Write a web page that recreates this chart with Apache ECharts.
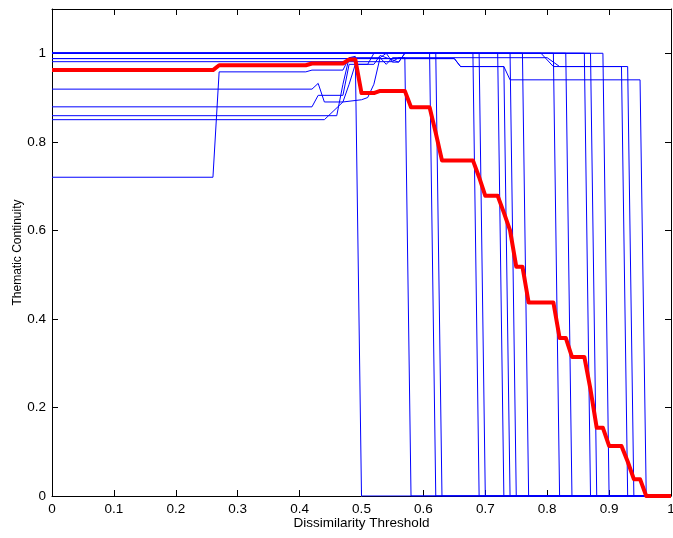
<!DOCTYPE html>
<html>
<head>
<meta charset="utf-8">
<title>Thematic Continuity</title>
<script src="https://cdn.jsdelivr.net/npm/echarts@6/dist/echarts.min.js"></script>
<style>
	html, body { margin: 0; padding: 0; background: #fff; }
	#chart { width: 673px; height: 538px; }
</style>
</head>
<body>
<div id="chart"></div>
<script>
	// axis ticks
	var xTicks = [0, 0.1, 0.2, 0.3, 0.4, 0.5, 0.6, 0.7, 0.8, 0.9, 1];
	var yTicks = [0, 0.2, 0.4, 0.6, 0.8, 1];

	// mean curve (thick red)
	var meanCurve = [[0, 0.962], [0.26, 0.962], [0.27, 0.973], [0.41, 0.973], [0.42, 0.977], [0.47, 0.977],
		[0.48, 0.986], [0.49, 0.986], [0.50, 0.910], [0.52, 0.910], [0.53, 0.915], [0.57, 0.915],
		[0.58, 0.878], [0.61, 0.878], [0.62, 0.82], [0.63, 0.758], [0.68, 0.758], [0.69, 0.72],
		[0.70, 0.678], [0.72, 0.678], [0.73, 0.64], [0.74, 0.60], [0.75, 0.518], [0.76, 0.518],
		[0.77, 0.437], [0.81, 0.437], [0.82, 0.357], [0.83, 0.357], [0.84, 0.314], [0.86, 0.314],
		[0.87, 0.24], [0.88, 0.154], [0.89, 0.154], [0.90, 0.113], [0.92, 0.113], [0.93, 0.078],
		[0.94, 0.038], [0.95, 0.038], [0.96, 0], [1, 0]];

	// single runs (thin blue)
	var run01 = [[0, 0.859], [0.46, 0.859], [0.47, 0.93], [0.48, 0.99], [0.49, 0.993], [0.50, 0], [1, 0]];
	var run02 = [[0, 0.72], [0.26, 0.72], [0.27, 0.958], [0.41, 0.958], [0.42, 0.962], [0.47, 0.962], [0.48, 0.99], [0.53, 0.99], [0.54, 0.975], [0.55, 0.99], [0.57, 0.99], [0.58, 0], [1, 0]];
	var run03 = [[0, 0.919], [0.42, 0.919], [0.43, 0.932], [0.44, 0.89], [0.47, 0.89], [0.48, 0.93], [0.49, 0.975], [0.51, 0.975], [0.52, 1], [0.61, 1], [0.62, 0], [1, 0]];
	var run04 = [[0, 0.85], [0.44, 0.85], [0.47, 0.89], [0.50, 0.895], [0.51, 0.9], [0.52, 0.93], [0.53, 0.99], [0.54, 1], [0.62, 1], [0.63, 0], [1, 0]];
	var run05 = [[0, 0.879], [0.42, 0.879], [0.43, 0.905], [0.47, 0.905], [0.48, 0.975], [0.52, 0.975], [0.53, 0.995], [0.56, 0.98], [0.57, 1], [0.68, 1], [0.69, 0], [1, 0]];
	var run06 = [[0, 1], [0.54, 1], [0.55, 0.98], [0.56, 0.98], [0.57, 1], [0.69, 1], [0.70, 0], [1, 0]];
	var run07 = [[0, 1], [0.72, 1], [0.73, 0], [1, 0]];
	var run08 = [[0, 0.988], [0.65, 0.988], [0.66, 0.97], [0.73, 0.97], [0.74, 0], [1, 0]];
	var run09 = [[0, 1], [0.74, 1], [0.75, 0], [1, 0]];
	var run10 = [[0, 1], [0.76, 1], [0.77, 0], [1, 0]];
	var run11 = [[0, 1], [0.81, 1], [0.82, 0], [1, 0]];
	var run12 = [[0, 1], [0.83, 1], [0.84, 0], [1, 0]];
	var run13 = [[0, 1], [0.86, 1], [0.87, 0], [1, 0]];
	var run14 = [[0, 1], [0.87, 1], [0.88, 0], [1, 0]];
	var run15 = [[0, 1], [0.89, 1], [0.90, 0], [1, 0]];
	var run16 = [[0, 1], [0.79, 1], [0.81, 0.97], [0.92, 0.97], [0.93, 0], [1, 0]];
	var run17 = [[0, 0.981], [0.55, 0.981], [0.56, 0.99], [0.80, 0.99], [0.82, 0.97], [0.93, 0.97], [0.94, 0], [1, 0]];
	var run18 = [[0, 0.988], [0.65, 0.988], [0.66, 0.97], [0.73, 0.97], [0.74, 0.94], [0.95, 0.94], [0.96, 0], [1, 0]];

	var runs = [run01, run02, run03, run04, run05, run06, run07, run08, run09,
		run10, run11, run12, run13, run14, run15, run16, run17, run18];

	var font = 'Liberation Sans, Arial, Helvetica, sans-serif';

	var series = runs.map(function(r) {
		return {
			type: 'line',
			data: r,
			showSymbol: false,
			symbol: 'none',
			silent: true,
			lineStyle: { color: '#0000ff', width: 1 },
			z: 2
		};
	});
	series.push({
		type: 'line',
		data: meanCurve,
		symbol: 'none',
		silent: true,
		lineStyle: { color: '#ff0000', width: 4, join: 'round' },
		z: 5
	});

	function inTicks(list, v) {
		for (var i = 0; i < list.length; i++) {
			if (Math.abs(list[i] - v) < 1e-6) return true;
		}
		return false;
	}

	// box axes: no onZero, ticks pointing inward
	function boxAxis(extra) {
		return Object.assign({
			axisLine: { show: true, onZero: false, lineStyle: { color: '#000', width: 1 } },
			axisTick: { show: true, inside: true, length: 6, lineStyle: { color: '#000' } },
			splitLine: { show: false }
		}, extra);
	}

	var myChart = echarts.init(document.getElementById('chart'), null, { renderer: 'canvas' });
	myChart.setOption({
		animation: false,
		backgroundColor: '#fff',
		grid: { left: 52, right: 2, top: 9, bottom: 42, containLabel: false, outerBoundsMode: 'none' },
		xAxis: [
			boxAxis({
				type: 'value', min: 0, max: 1, interval: 0.1, position: 'bottom',
				name: 'Dissimilarity Threshold', nameLocation: 'middle', nameGap: 20,
				nameMoveOverlap: false,
				nameTextStyle: { color: '#000', fontFamily: font, fontSize: 13.5 },
				axisLabel: {
					color: '#000', fontFamily: font, fontSize: 13.5, margin: 6,
					formatter: function(v) { return inTicks(xTicks, v) ? String(+v.toFixed(1)) : ''; }
				}
			}),
			boxAxis({
				type: 'value', min: 0, max: 1, interval: 0.1, position: 'top',
				axisLabel: { show: false }
			})
		],
		yAxis: [
			boxAxis({
				type: 'value', min: 0, max: 1.1, interval: 0.2, position: 'left',
				name: 'Thematic Continuity', nameLocation: 'middle', nameGap: 28,
				nameMoveOverlap: false,
				nameTextStyle: { color: '#000', fontFamily: font, fontSize: 12 },
				axisLabel: {
					color: '#000', fontFamily: font, fontSize: 13.5, margin: 6, showMaxLabel: false,
					formatter: function(v) { return inTicks(yTicks, v) ? String(+v.toFixed(1)) : ''; }
				}
			}),
			boxAxis({
				type: 'value', min: 0, max: 1.1, interval: 0.2, position: 'right',
				axisLabel: { show: false }
			})
		],
		series: series
	});
</script>
</body>
</html>
